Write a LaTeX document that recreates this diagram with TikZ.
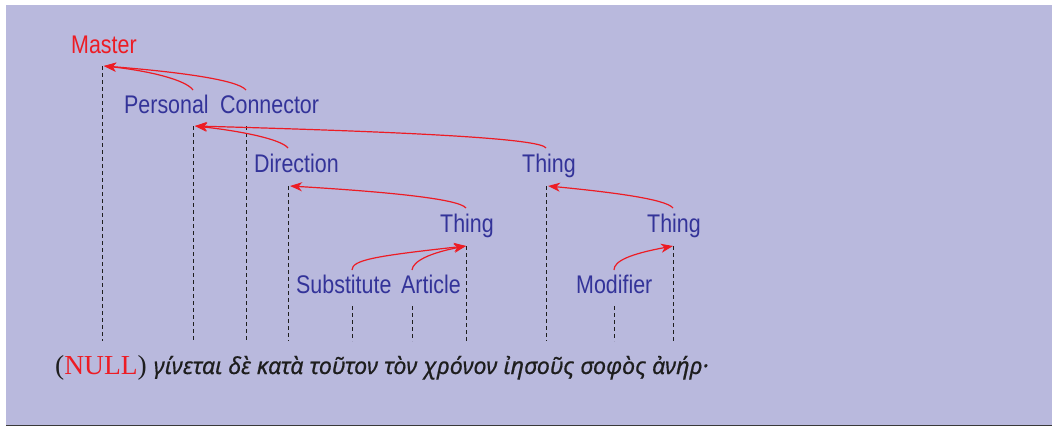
\documentclass[tikz,border=0pt]{standalone}
\usepackage{fontspec}
\setmainfont{Liberation Serif}
\newfontfamily\lblfont[FakeStretch=0.84]{Liberation Sans}
\newfontfamily\grkfont[FakeBold=0.5]{Noto Sans}
\usetikzlibrary{arrows.meta}

\definecolor{panel}{RGB}{185,185,221}
\definecolor{lblblue}{RGB}{51,51,153}
\definecolor{linkred}{RGB}{237,28,36}
\definecolor{inkdark}{RGB}{30,30,30}

\begin{document}
\begin{tikzpicture}[x=1pt,y=-1pt,
  lbl/.style={font=\lblfont\fontsize{25.5}{28}\selectfont, text=lblblue,
              inner sep=0pt, anchor=base west},
  masterlbl/.style={lbl, text=linkred},
  col/.style={draw=inkdark, line width=1pt, dash pattern=on 4pt off 3pt},
  link/.style={draw=linkred, line width=1.2pt,
               -{Stealth[length=12pt,width=9pt,inset=3.5pt]}}]

% panel
\useasboundingbox (0,0) rectangle (1052,426);
\fill[white] (0,0) rectangle (1052,426);
\fill[panel] (6,5) rectangle (1052,425);
\draw[gray!45!black, line width=1.3pt] (6,425.3) -- (1052,425.3);

% function labels
\node[masterlbl] (master) at (71,53)  {Master};
\node[lbl] (personal)  at (124,113) {Personal};
\node[lbl] (connector) at (220,113) {Connector};
\node[lbl] (direction) at (254,172) {Direction};
\node[lbl] (thingA)    at (522,172) {Thing};
\node[lbl] (thingB)    at (440,232) {Thing};
\node[lbl] (thingC)    at (647,232) {Thing};
\node[lbl] (subst)     at (296,293) {Substitute};
\node[lbl] (article)   at (401,293) {Article};
\node[lbl] (modifier)  at (576,293) {Modifier};

% tops of the word columns
\coordinate (cM)  at (102,66);
\coordinate (cP)  at (193,126);
\coordinate (cC)  at (246,126);
\coordinate (cD)  at (288,186);
\coordinate (cTA) at (546,186);
\coordinate (cTB) at (466,246);
\coordinate (cTC) at (673,246);
\coordinate (cS)  at (352,306);
\coordinate (cA)  at (412,306);
\coordinate (cMo) at (614,306);
\coordinate (floor) at (0,341);

% dashed columns down to the words
\foreach \c in {cM,cP,cC,cD,cTA,cTB,cTC,cS,cA,cMo}
  \draw[col] (\c) -- (\c |- floor);

% arrow tips, just right of each column head
\coordinate (tM) at ([xshift=2pt]cM);
\coordinate (tP) at ([xshift=2pt]cP);
\coordinate (tD) at ([xshift=2pt]cD);
\coordinate (tTA) at ([xshift=2pt]cTA);
\coordinate (tTB) at ([xshift=0pt]cTB);
\coordinate (tTC) at ([xshift=0pt]cTC);

% arrow tails, just above each label
\coordinate (sP)  at (193,90);
\coordinate (sC)  at (246,90);
\coordinate (sD)  at (288,148);
\coordinate (sTA) at (546,148);
\coordinate (sTB) at (466,208);
\coordinate (sTC) at (673,208);
\coordinate (sS)  at (352,270);
\coordinate (sA)  at (412,270);
\coordinate (sMo) at (614,270);

% dependency links
\draw[link] (sP)  .. controls (186,80) and (150,71) .. (tM);
\draw[link] (sC)  .. controls (238,80) and (180,72) .. (tM);
\draw[link] (sD)  .. controls (281,139) and (240,131) .. (tP);
\draw[link] (sTA) .. controls (541,140) and (450,133) .. (tP);
\draw[link] (sTB) .. controls (459,199) and (390,192) .. (tD);
\draw[link] (sTC) .. controls (666,199) and (610,192) .. (tTA);
\draw[link] (sS)  .. controls (352,260) and (375,256) .. (tTB);
\draw[link] (sA)  .. controls (413,261) and (430,253) .. (tTB);
\draw[link] (sMo) .. controls (614,261) and (630,254) .. (tTC);

% the sentence
\node[anchor=base west, inner sep=0pt, text=inkdark] (sentence) at (55,374)
  {\fontsize{27.5}{30}\selectfont (\textcolor{linkred}{NULL})
   {\grkfont\itshape\fontsize{23.3}{28}\selectfont γίνεται δὲ κατὰ τοῦτον τὸν χρόνον ἰησοῦς σοφὸς ἀνήρ·}};
\end{tikzpicture}
\end{document}
